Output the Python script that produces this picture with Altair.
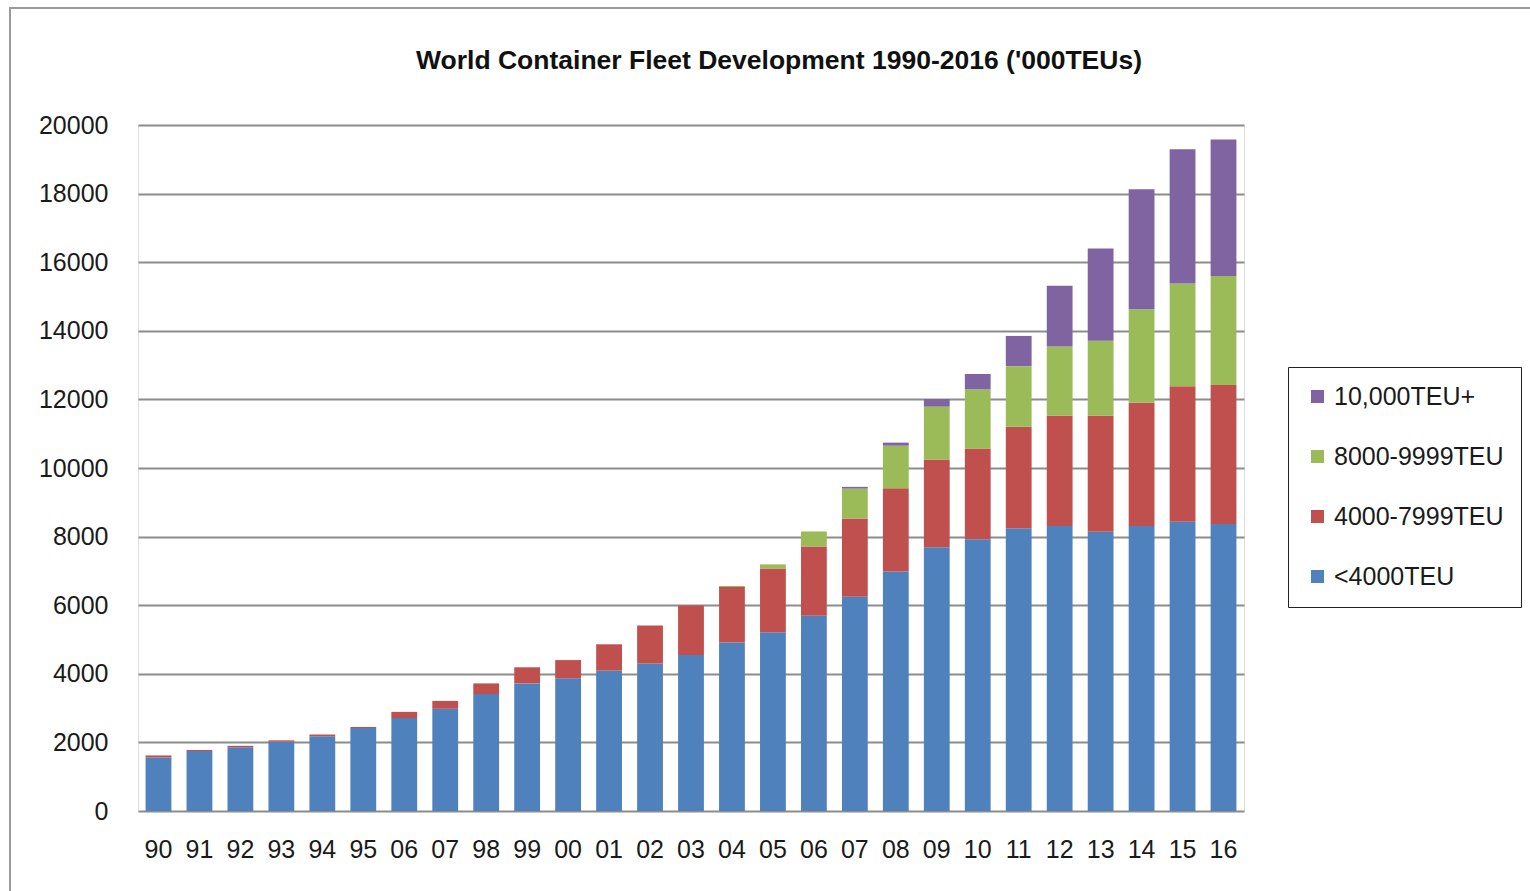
import altair as alt
import pandas as pd

# --- data ---
years = [str(y) for y in range(1990, 2017)]
tick_labels = ["90", "91", "92", "93", "94", "95", "06", "07", "98", "99", "00", "01", "02", "03",
               "04", "05", "06", "07", "08", "09", "10", "11", "12", "13", "14", "15", "16"]

series_names = ["<4000TEU", "4000-7999TEU", "8000-9999TEU", "10,000TEU+"]
series_colors = ["#4F81BD", "#C0504D", "#9BBB59", "#8064A2"]

small = [1560, 1750, 1860, 2020, 2180, 2420, 2710, 2980, 3410, 3720, 3870, 4090, 4300, 4550,
         4910, 5210, 5690, 6250, 6980, 7690, 7920, 8240, 8310, 8140, 8310, 8430, 8370]
mid = [60, 30, 40, 40, 50, 30, 180, 230, 310, 470, 530, 770, 1110, 1440,
       1620, 1860, 2020, 2280, 2430, 2560, 2650, 2960, 3210, 3380, 3590, 3950, 4050]
large = [0, 0, 0, 0, 0, 0, 0, 0, 0, 0, 0, 0, 0, 0,
         30, 120, 440, 870, 1240, 1540, 1720, 1770, 2020, 2190, 2730, 3000, 3180]
ultra = [0, 0, 0, 0, 0, 0, 0, 0, 0, 0, 0, 0, 0, 0,
         0, 0, 0, 50, 90, 220, 450, 880, 1770, 2690, 3500, 3910, 3980]

series_values = [small, mid, large, ultra]

rows = []
for s_idx, (name, vals) in enumerate(zip(series_names, series_values)):
    for i, y in enumerate(years):
        rows.append({"year": y, "series": name, "value": vals[i], "order": s_idx})
df = pd.DataFrame(rows)

label_map = "{" + ",".join(f"'{y}':'{l}'" for y, l in zip(years, tick_labels)) + "}"

FONT = "Liberation Sans"

bars = alt.Chart(df).mark_bar().encode(
    x=alt.X("year:O", sort=years,
            scale=alt.Scale(paddingInner=0.37, paddingOuter=0.185),
            axis=alt.Axis(title=None, labelAngle=0, labelExpr=label_map + "[datum.value]",
                          labelFontSize=25, labelFont=FONT, labelColor="#1a1a1a",
                          labelPadding=26, ticks=False, domain=False)),
    y=alt.Y("value:Q", stack="zero",
            scale=alt.Scale(domain=[0, 20000], nice=False),
            axis=alt.Axis(title=None, values=list(range(0, 20001, 2000)), format="d",
                          labelFontSize=25, labelFont=FONT, labelColor="#1a1a1a",
                          labelPadding=30, ticks=False, domain=False,
                          grid=True, gridColor="#8c8c8c", gridWidth=2)),
    color=alt.Color("series:N",
                    scale=alt.Scale(domain=series_names[::-1], range=series_colors[::-1]),
                    legend=alt.Legend(title=None, orient="none", legendX=1150, legendY=242,
                                      strokeColor="#222", fillColor="white", padding=17,
                                      labelFontSize=25, labelFont=FONT, labelColor="#1a1a1a",
                                      labelLimit=400,
                                      symbolType="square", symbolSize=170, symbolStrokeWidth=0,
                                      rowPadding=34, labelOffset=4)),
    order=alt.Order("order:Q", sort="ascending"),
)

frame = alt.Chart(pd.DataFrame({"k": [0]})).mark_rect(
    fill="transparent", stroke="#9a9a9a", strokeWidth=2
).encode(x=alt.value(-128), x2=alt.value(1430), y=alt.value(-117), y2=alt.value(800))

chart = alt.layer(frame, bars).properties(
    width=1106, height=686,
    padding={"left": 138, "top": 125, "right": 286, "bottom": 80},
    autosize=alt.AutoSizeParams(type="none"),
    title=alt.TitleParams("World Container Fleet Development 1990-2016 ('000TEUs)",
                          font=FONT, fontSize=26.5, fontWeight="bold", color="#111",
                          anchor="middle", frame="group", dx=88, offset=-94,
                          baseline="bottom"),
).configure_view(stroke="#333", strokeWidth=2).configure(background="white")

chart.save("out.html", embed_options={"renderer": "svg", "actions": False})
